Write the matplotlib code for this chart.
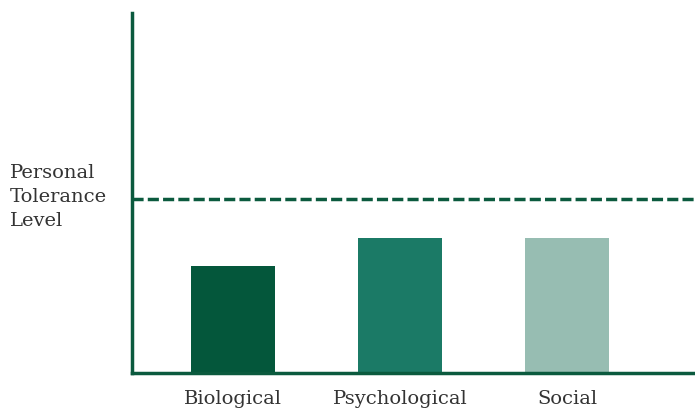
import matplotlib.pyplot as plt

categories = ["Biological", "Psychological", "Social"]
values = [29.7, 37.5, 37.5]
tolerance = 48.3
bar_colors = ["#04573b", "#1b7a66", "#97bdb2"]
axis_color = "#0b5a3e"
text_color = "#333333"

plt.rcParams['font.family'] = ['DejaVu Serif']

fig = plt.figure(figsize=(6.95, 4.09), dpi=100)
ax = fig.add_axes([132 / 695, 1 - 373 / 409, 1 - 132 / 695, 360 / 409])

x = list(range(len(categories)))
ax.bar(x, values, width=0.503, color=bar_colors, zorder=2)
ax.axhline(tolerance, color=axis_color, lw=2.5, ls=(0, (3.2, 1.2)), zorder=3)

ax.set_xlim(-0.605, 2.766)
ax.set_ylim(0, 100)
ax.set_xticks(x)
ax.set_xticklabels(categories, fontsize=14, color=text_color)
ax.tick_params(axis='x', length=0, pad=12)
ax.set_yticks([])

for side in ['top', 'right']:
    ax.spines[side].set_visible(False)
for side in ['left', 'bottom']:
    ax.spines[side].set_color(axis_color)
    ax.spines[side].set_linewidth(2.5)

fig.text(10 / 695, 1 - 197 / 409, "Personal\nTolerance\nLevel", fontsize=14,
         color=text_color, va='center', ha='left', linespacing=1.45)

fig.savefig("out.png", dpi=100)
